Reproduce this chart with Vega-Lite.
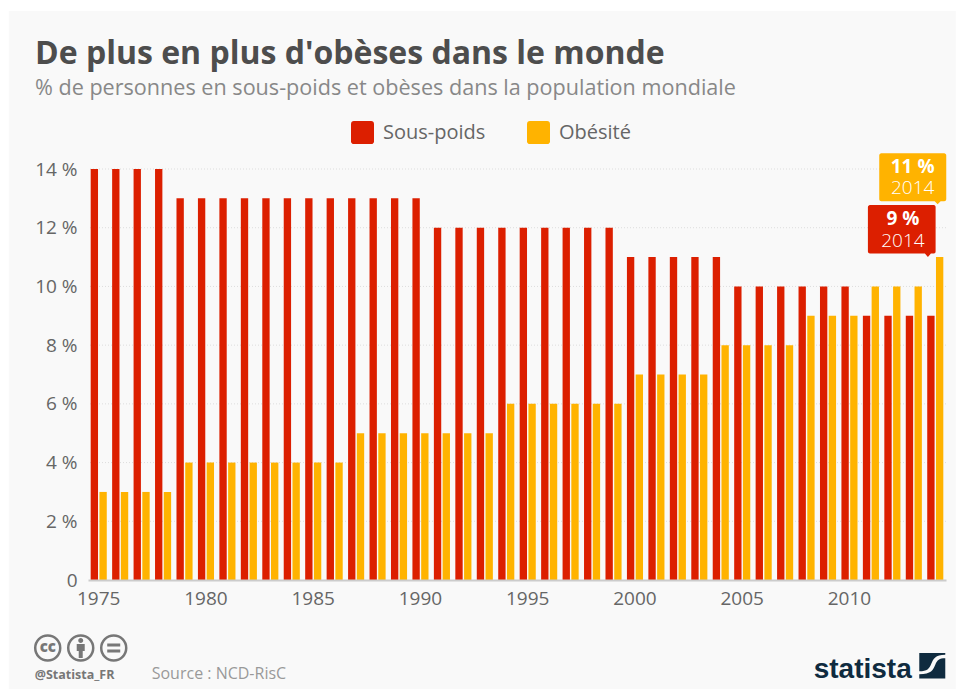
{
"$schema":"https://vega.github.io/schema/vega-lite/v6.json",
"width":858,"height":411,
"autosize":{"type":"none"},
"padding":{"left":88,"top":169,"right":10,"bottom":109},
"background":"white",
"config":{"font":"Open Sans","view":{"stroke":null}},
"title":{"text":"De plus en plus d'obèses dans le monde","subtitle":"% de personnes en sous-poids et obèses dans la population mondiale","anchor":"start","frame":"group","dx":-53,"offset":-90,"font":"Open Sans","fontSize":32,"fontWeight":700,"color":"#4d4d4d","subtitleFont":"Open Sans","subtitleFontSize":21.6,"subtitleFontWeight":400,"subtitleColor":"#888888","subtitlePadding":7},
"datasets":{
"bars":[
{"year":1975,"series":"Sous-poids","value":14},{"year":1975,"series":"Obésité","value":3},
{"year":1976,"series":"Sous-poids","value":14},{"year":1976,"series":"Obésité","value":3},
{"year":1977,"series":"Sous-poids","value":14},{"year":1977,"series":"Obésité","value":3},
{"year":1978,"series":"Sous-poids","value":14},{"year":1978,"series":"Obésité","value":3},
{"year":1979,"series":"Sous-poids","value":13},{"year":1979,"series":"Obésité","value":4},
{"year":1980,"series":"Sous-poids","value":13},{"year":1980,"series":"Obésité","value":4},
{"year":1981,"series":"Sous-poids","value":13},{"year":1981,"series":"Obésité","value":4},
{"year":1982,"series":"Sous-poids","value":13},{"year":1982,"series":"Obésité","value":4},
{"year":1983,"series":"Sous-poids","value":13},{"year":1983,"series":"Obésité","value":4},
{"year":1984,"series":"Sous-poids","value":13},{"year":1984,"series":"Obésité","value":4},
{"year":1985,"series":"Sous-poids","value":13},{"year":1985,"series":"Obésité","value":4},
{"year":1986,"series":"Sous-poids","value":13},{"year":1986,"series":"Obésité","value":4},
{"year":1987,"series":"Sous-poids","value":13},{"year":1987,"series":"Obésité","value":5},
{"year":1988,"series":"Sous-poids","value":13},{"year":1988,"series":"Obésité","value":5},
{"year":1989,"series":"Sous-poids","value":13},{"year":1989,"series":"Obésité","value":5},
{"year":1990,"series":"Sous-poids","value":13},{"year":1990,"series":"Obésité","value":5},
{"year":1991,"series":"Sous-poids","value":12},{"year":1991,"series":"Obésité","value":5},
{"year":1992,"series":"Sous-poids","value":12},{"year":1992,"series":"Obésité","value":5},
{"year":1993,"series":"Sous-poids","value":12},{"year":1993,"series":"Obésité","value":5},
{"year":1994,"series":"Sous-poids","value":12},{"year":1994,"series":"Obésité","value":6},
{"year":1995,"series":"Sous-poids","value":12},{"year":1995,"series":"Obésité","value":6},
{"year":1996,"series":"Sous-poids","value":12},{"year":1996,"series":"Obésité","value":6},
{"year":1997,"series":"Sous-poids","value":12},{"year":1997,"series":"Obésité","value":6},
{"year":1998,"series":"Sous-poids","value":12},{"year":1998,"series":"Obésité","value":6},
{"year":1999,"series":"Sous-poids","value":12},{"year":1999,"series":"Obésité","value":6},
{"year":2000,"series":"Sous-poids","value":11},{"year":2000,"series":"Obésité","value":7},
{"year":2001,"series":"Sous-poids","value":11},{"year":2001,"series":"Obésité","value":7},
{"year":2002,"series":"Sous-poids","value":11},{"year":2002,"series":"Obésité","value":7},
{"year":2003,"series":"Sous-poids","value":11},{"year":2003,"series":"Obésité","value":7},
{"year":2004,"series":"Sous-poids","value":11},{"year":2004,"series":"Obésité","value":8},
{"year":2005,"series":"Sous-poids","value":10},{"year":2005,"series":"Obésité","value":8},
{"year":2006,"series":"Sous-poids","value":10},{"year":2006,"series":"Obésité","value":8},
{"year":2007,"series":"Sous-poids","value":10},{"year":2007,"series":"Obésité","value":8},
{"year":2008,"series":"Sous-poids","value":10},{"year":2008,"series":"Obésité","value":9},
{"year":2009,"series":"Sous-poids","value":10},{"year":2009,"series":"Obésité","value":9},
{"year":2010,"series":"Sous-poids","value":10},{"year":2010,"series":"Obésité","value":9},
{"year":2011,"series":"Sous-poids","value":9},{"year":2011,"series":"Obésité","value":10},
{"year":2012,"series":"Sous-poids","value":9},{"year":2012,"series":"Obésité","value":10},
{"year":2013,"series":"Sous-poids","value":9},{"year":2013,"series":"Obésité","value":10},
{"year":2014,"series":"Sous-poids","value":9},{"year":2014,"series":"Obésité","value":11}
],
"callouts":[
{"year":2014,"series":"Obésité","value":12.8,"label":"11 %","when":"2014"},
{"year":2014,"series":"Sous-poids","value":11,"label":"9 %","when":"2014"}
],
"frame":[{"year":1975,"value":0}],
"icons":[{"year":1975,"value":-2.316}],
"credit":[{"year":1975,"value":-3.38,"text":"@Statista_FR"}],
"source":[{"year":1975,"value":-3.38,"text":"Source : NCD-RisC"}],
"logo":[{"year":2014,"value":-3.4,"text":"statista"}],
"grid":[{"value":2},{"value":4},{"value":6},{"value":8},{"value":10},{"value":12},{"value":14}]
},
"layer":[
{"data":{"name":"frame"},
 "mark":{"type":"point","filled":true,"size":4,"color":"#f9f9f9","opacity":1,"shape":"M-90,-569H857V109H-90Z"},
 "encoding":{
  "x":{"field":"year","type":"ordinal","scale":{"paddingInner":0.25,"paddingOuter":0.125},"axis":{"title":null,"values":[1975,1980,1985,1990,1995,2000,2005,2010],"labelAngle":0,"labelFont":"Open Sans","labelFontSize":19,"labelColor":"#666666","labelPadding":9,"ticks":false,"domainColor":"#cccccc","domainWidth":2,"zindex":1,"grid":false}},
  "y":{"field":"value","type":"quantitative","scale":{"domain":[0,14],"nice":false},"axis":{"title":null,"values":[0,2,4,6,8,10,12,14],"labelExpr":"datum.value == 0 ? '0' : datum.value + ' %'","labelFont":"Open Sans","labelFontSize":19,"labelColor":"#666666","labelPadding":11,"ticks":false,"domain":false,"grid":false,"zindex":1}}
 }},
{"data":{"name":"grid"},
 "mark":{"type":"rule","stroke":"#dddddd","strokeWidth":1,"strokeDash":[1,2]},
 "encoding":{"y":{"field":"value","type":"quantitative"}}},
{"data":{"name":"bars"},
 "mark":{"type":"bar"},
 "encoding":{
  "x":{"field":"year","type":"ordinal"},
  "xOffset":{"field":"series","type":"nominal","scale":{"domain":["Sous-poids","Obésité"],"paddingInner":0.16,"paddingOuter":0}},
  "y":{"field":"value","type":"quantitative"},
  "color":{"field":"series","type":"nominal","scale":{"domain":["Sous-poids","Obésité"],"range":["#dc1f00","#ffb300"]},
   "legend":{"title":null,"orient":"none","legendX":263,"legendY":-48,"direction":"horizontal","symbolType":"M-1,-0.75C-1,-0.9 -0.9,-1 -0.75,-1H0.75C0.9,-1 1,-0.9 1,-0.75V0.75C1,0.9 0.9,1 0.75,1H-0.75C-0.9,1 -1,0.9 -1,0.75Z","symbolSize":529,"symbolStrokeWidth":0,"symbolOpacity":1,"labelFont":"Open Sans","labelFontSize":20,"labelColor":"#666666","labelOffset":9,"columnPadding":41}}
 }},
{"data":{"name":"callouts"},"transform":[{"filter":"datum.series == 'Sous-poids'"}],
 "mark":{"type":"point","filled":true,"size":4,"opacity":1,"shape":"M-61,-52H3C4,-52 4.7,-51 4.7,-50V-5.5C4.7,-4.5 4,-3.5 3,-3.5H0L-3,0L-6,-3.5H-61C-62,-3.5 -63,-4.5 -63,-5.5V-50C-63,-51 -62,-52 -61,-52Z"},
 "encoding":{"x":{"field":"year","type":"ordinal"},"xOffset":{"field":"series","type":"nominal"},"y":{"field":"value","type":"quantitative"},"color":{"field":"series","type":"nominal","legend":null}}},
{"data":{"name":"callouts"},"transform":[{"filter":"datum.series == 'Obésité'"}],
 "mark":{"type":"point","filled":true,"size":4,"opacity":1,"shape":"M-58.4,-51H4.6C5.6,-51 6.6,-50 6.6,-49V-5C6.6,-4 5.6,-3 4.6,-3H1L-2,0L-5,-3H-58.4C-59.4,-3 -60.4,-4 -60.4,-5V-49C-60.4,-50 -59.4,-51 -58.4,-51Z"},
 "encoding":{"x":{"field":"year","type":"ordinal"},"xOffset":{"field":"series","type":"nominal"},"y":{"field":"value","type":"quantitative"},"color":{"field":"series","type":"nominal","legend":null}}},
{"data":{"name":"callouts"},"transform":[{"filter":"datum.series == 'Obésité'"}],
 "mark":{"type":"text","font":"Open Sans","fontSize":19,"fontWeight":700,"color":"white","align":"center","baseline":"alphabetic","dx":-27,"dy":-31},
 "encoding":{"x":{"field":"year","type":"ordinal"},"xOffset":{"field":"series","type":"nominal"},"y":{"field":"value","type":"quantitative"},"text":{"field":"label"}}},
{"data":{"name":"callouts"},"transform":[{"filter":"datum.series == 'Obésité'"}],
 "mark":{"type":"text","font":"Open Sans","fontSize":19,"fontWeight":300,"color":"white","align":"center","baseline":"alphabetic","dx":-27,"dy":-10},
 "encoding":{"x":{"field":"year","type":"ordinal"},"xOffset":{"field":"series","type":"nominal"},"y":{"field":"value","type":"quantitative"},"text":{"field":"when"}}},
{"data":{"name":"callouts"},"transform":[{"filter":"datum.series == 'Sous-poids'"}],
 "mark":{"type":"text","font":"Open Sans","fontSize":19,"fontWeight":700,"color":"white","align":"center","baseline":"alphabetic","dx":-28,"dy":-32},
 "encoding":{"x":{"field":"year","type":"ordinal"},"xOffset":{"field":"series","type":"nominal"},"y":{"field":"value","type":"quantitative"},"text":{"field":"label"}}},
{"data":{"name":"callouts"},"transform":[{"filter":"datum.series == 'Sous-poids'"}],
 "mark":{"type":"text","font":"Open Sans","fontSize":19,"fontWeight":300,"color":"white","align":"center","baseline":"alphabetic","dx":-28,"dy":-10},
 "encoding":{"x":{"field":"year","type":"ordinal"},"xOffset":{"field":"series","type":"nominal"},"y":{"field":"value","type":"quantitative"},"text":{"field":"when"}}},
{"data":{"name":"icons"},
 "mark":{"type":"point","filled":false,"size":4,"color":"#777777","opacity":1,"strokeWidth":2.5,"shape":"M-38.5,0A12.5,12.5 0 1 0 -63.5,0A12.5,12.5 0 1 0 -38.5,0ZM-5.5,0A12.5,12.5 0 1 0 -30.5,0A12.5,12.5 0 1 0 -5.5,0ZM27.5,0A12.5,12.5 0 1 0 2.5,0A12.5,12.5 0 1 0 27.5,0Z"},
 "encoding":{"x":{"field":"year","type":"ordinal"},"y":{"field":"value","type":"quantitative"}}},
{"data":{"name":"icons"},
 "mark":{"type":"point","filled":true,"size":4,"color":"#777777","opacity":1,"shape":"M8.5,-4.5H21.5V-1.5H8.5ZM8.5,1.5H21.5V4.5H8.5ZM-20.5,-7.5A2.5,2.5 0 1 0 -15.5,-7.5A2.5,2.5 0 1 0 -20.5,-7.5ZM-22,-4H-14V3H-16V10H-20V3H-22Z"},
 "encoding":{"x":{"field":"year","type":"ordinal"},"y":{"field":"value","type":"quantitative"}}},
{"data":{"name":"icons"},
 "mark":{"type":"text","text":"cc","font":"Open Sans","fontSize":15,"fontWeight":800,"color":"#777777","align":"center","baseline":"middle","dx":-51,"dy":-1},
 "encoding":{"x":{"field":"year","type":"ordinal"},"y":{"field":"value","type":"quantitative"}}},
{"data":{"name":"credit"},
 "mark":{"type":"text","font":"Open Sans","fontSize":12.5,"fontWeight":700,"color":"#777777","align":"left","baseline":"alphabetic","dx":-64},
 "encoding":{"x":{"field":"year","type":"ordinal"},"y":{"field":"value","type":"quantitative"},"text":{"field":"text"}}},
{"data":{"name":"source"},
 "mark":{"type":"text","font":"Open Sans","fontSize":16,"color":"#999999","align":"left","baseline":"alphabetic","dx":53},
 "encoding":{"x":{"field":"year","type":"ordinal"},"y":{"field":"value","type":"quantitative"},"text":{"field":"text"}}},
{"data":{"name":"logo"},
 "mark":{"type":"text","font":"Liberation Sans","fontSize":28,"fontWeight":700,"color":"#0f2b3f","align":"right","baseline":"alphabetic","dx":-23.5,"dy":-2},
 "encoding":{"x":{"field":"year","type":"ordinal"},"y":{"field":"value","type":"quantitative"},"text":{"field":"text"}}},
{"data":{"name":"logo"},
 "mark":{"type":"point","filled":true,"size":4,"color":"#0f2b3f","opacity":1,"shape":"M-16,-26.7H10V-25C0,-25 -2,-21 -4,-16C-6,-11 -8,-8.5 -16,-8.5ZM-16,-5.5C-4,-5.5 -2,-10 0,-15C2,-20 4,-21.5 10,-21.5V-1.3H-16Z"},
 "encoding":{"x":{"field":"year","type":"ordinal"},"y":{"field":"value","type":"quantitative"}}}
]
}
